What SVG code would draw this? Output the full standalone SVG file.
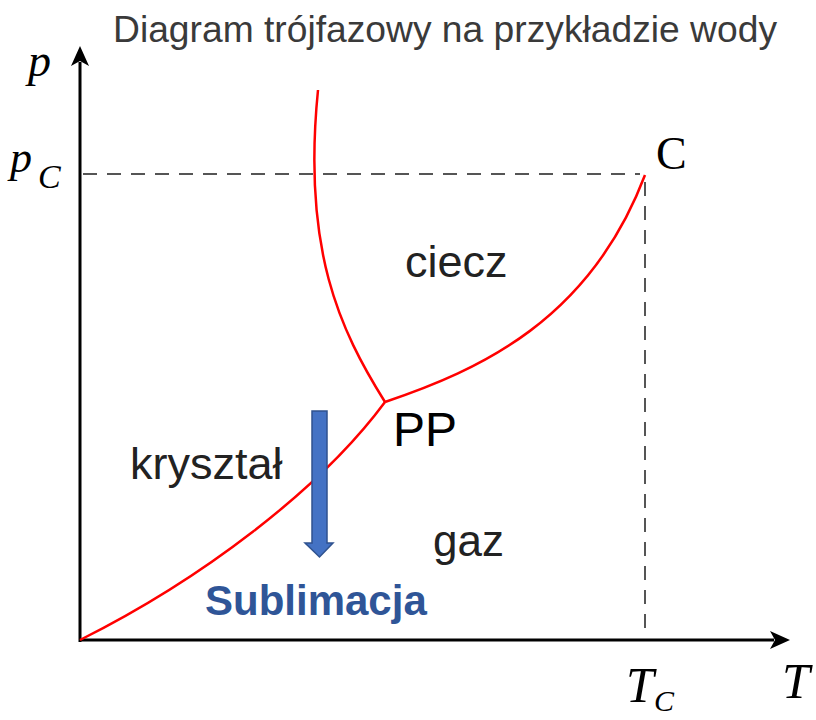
<svg xmlns="http://www.w3.org/2000/svg" width="816" height="720" viewBox="0 0 816 720">
<defs>
<style>
.sans{font-family:"Liberation Sans",Arial,sans-serif}
.serif{font-family:"Liberation Serif","Times New Roman",serif}
.it{font-style:italic}
.ax{stroke:#000;stroke-width:3;fill:none}
.dash{stroke:#555;stroke-width:2;stroke-dasharray:14,10;fill:none}
.red{stroke:#ff0000;stroke-width:2.5;fill:none}
</style>
<marker id="ah" viewBox="0 0 20 20" refX="4" refY="10" markerWidth="20" markerHeight="20" markerUnits="userSpaceOnUse" orient="auto">
<path d="M0,1 L20,10 L0,19 L5,10 Z" fill="#000"/>
</marker>
</defs>
<rect width="816" height="720" fill="#fff"/>
<text class="sans" x="113" y="42" font-size="37" fill="#3a3a3a" textLength="664" lengthAdjust="spacingAndGlyphs">Diagram trójfazowy na przykładzie wody</text>
<g id="connectors">
<line class="ax" x1="80" y1="642" x2="80" y2="62" marker-end="url(#ah)"/>
<line class="ax" x1="79" y1="640" x2="774" y2="640" marker-end="url(#ah)"/>
<line class="dash" x1="83" y1="174" x2="640" y2="174"/>
<line class="dash" x1="645" y1="182" x2="645" y2="638"/>
<path class="red" d="M80,640 C200,580 320,490 385,402"/>
<path class="red" d="M385,402 C480,370 590,320 645,175"/>
<path class="red" d="M385,402 C340,330 302,250 318,90"/>
</g>
<g id="arrow">
<path d="M312,411 H327 V543 H333 L319.5,557 L305,543 H312 Z" fill="#4472C4" stroke="#2F528F" stroke-width="1.5"/>
</g>
<g id="labels">
<text class="serif it" x="28" y="76" font-size="46">p</text>
<text class="serif it" x="10" y="172" font-size="44">p</text>
<text class="serif it" x="38" y="188" font-size="34">C</text>
<text class="serif" x="656" y="169" font-size="46">C</text>
<text class="serif it" x="626" y="702" font-size="50">T</text>
<text class="serif it" x="654" y="711" font-size="30">C</text>
<text class="serif it" x="782" y="698" font-size="50">T</text>
<text class="sans" x="405" y="277" font-size="45" fill="#222">ciecz</text>
<text class="sans" x="393" y="446" font-size="48" fill="#000">PP</text>
<text class="sans" x="130" y="479" font-size="45" fill="#222">kryształ</text>
<text class="sans" x="433" y="556" font-size="44" fill="#222">gaz</text>
<text class="sans" x="205" y="615" font-size="42" font-weight="bold" fill="#2F5597">Sublimacja</text>
</g>
</svg>
